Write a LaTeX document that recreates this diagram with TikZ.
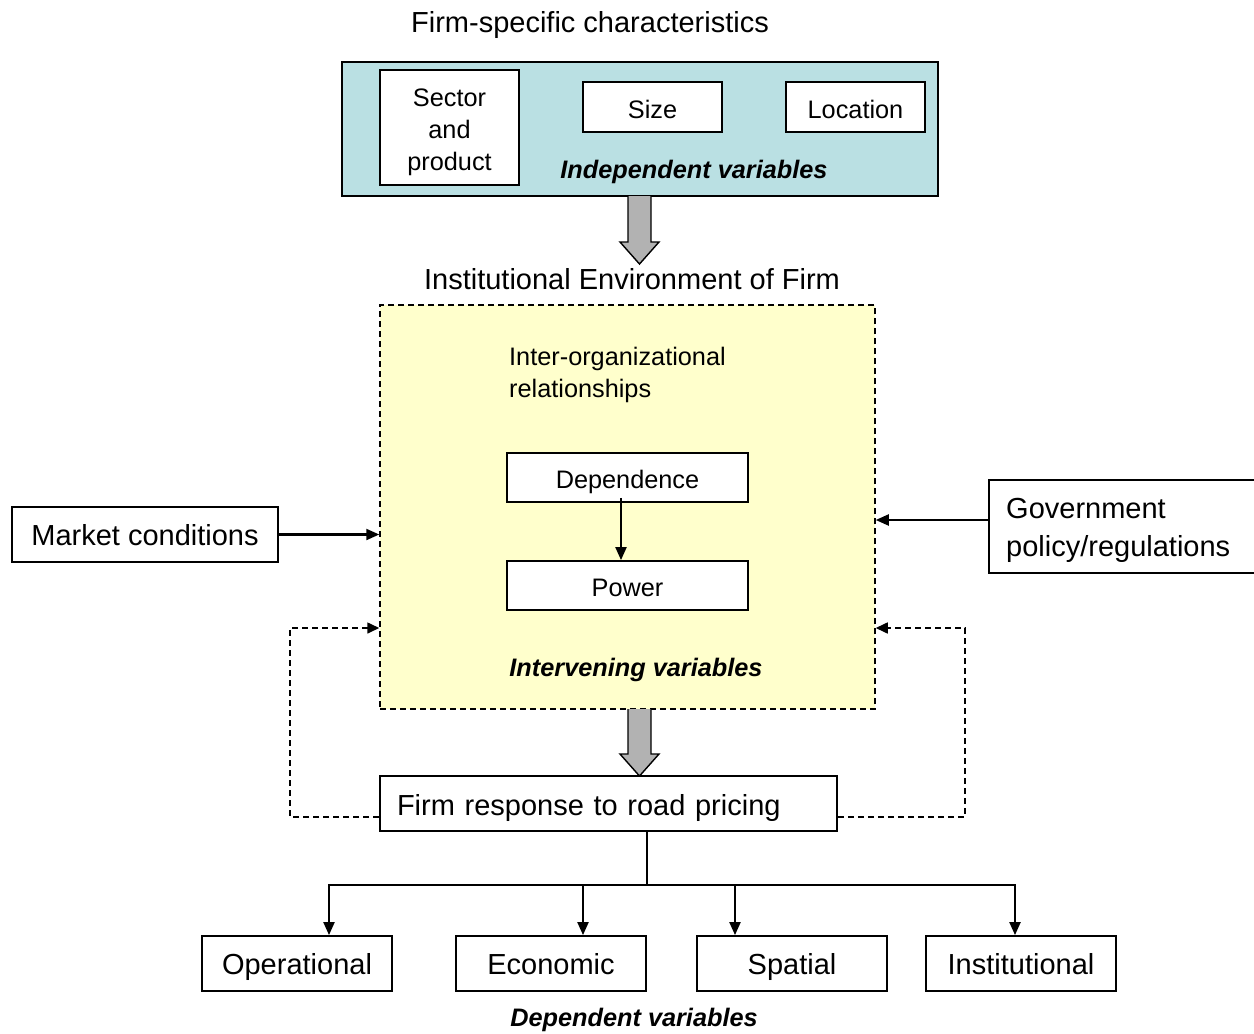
\documentclass[tikz,border=0pt]{standalone}
\usepackage{fontspec}
\setmainfont{Liberation Sans}
\usetikzlibrary{calc,arrows.meta}
\definecolor{tealfill}{RGB}{186,224,227}
\definecolor{yelfill}{RGB}{255,255,204}
\definecolor{arrowgray}{RGB}{178,178,178}
\tikzset{
  big/.style={font=\fontsize{29}{33}\selectfont},
  small/.style={font=\fontsize{25.3}{32}\selectfont},
  bi/.style={font=\fontsize{25.3}{30}\selectfont\bfseries\itshape},
  box/.style={draw, line width=1.8pt, fill=white, inner sep=0pt},
  bigbox/.style={box, big, text height=21.8pt, text depth=0pt},
  smallbox/.style={box, small, text height=22.1pt, text depth=0pt},
  conn/.style={line width=2.1pt, -{Triangle[length=13pt,width=11pt]}},
  dashconn/.style={line width=1.6pt, dash pattern=on 6pt off 4pt, -{Triangle[length=12pt,width=11pt]}},
  garrow/.style={line width=1.4pt, fill=arrowgray, line join=miter},
}
\begin{document}
\begin{tikzpicture}[x=1pt,y=-1pt]
\useasboundingbox (0,0) rectangle (1254,1034);

% top group
\node[big] (t1) at (590,24.5) {Firm-specific characteristics};
\node[draw, line width=1.8pt, fill=tealfill, minimum width=596, minimum height=134, inner sep=0pt] (teal) at (640,129) {};
\node[box, small, align=center, text height=91pt, minimum width=139, minimum height=115] (sector) at (449.5,127.5) {Sector\\and\\product};
\node[smallbox, minimum width=139, minimum height=50] (size) at (652.5,107) {Size};
\node[smallbox, minimum width=139, minimum height=50] (loc) at (855.5,107) {Location};
\node[bi] (indep) at (694,172) {Independent variables};

% block arrow 1
\draw[garrow] (628,196) -- (628,242) -- (620,242) -- (639.5,264) -- (659,242) -- (651,242) -- (651,196);

\node[big] (t2) at (632,279) {Institutional Environment of Firm};

% environment box
\node[draw, line width=1.5pt, dash pattern=on 6pt off 4pt, fill=yelfill, minimum width=495, minimum height=404, inner sep=0pt] (env) at (627.5,507) {};
\node[small, align=left, anchor=west, inner sep=0pt] (inter) at (509,375) {Inter-organizational\\relationships};
\node[smallbox, minimum width=241, minimum height=49] (dep) at (627.5,477.5) {Dependence};
\node[smallbox, minimum width=241, minimum height=49] (pow) at (627.5,585.5) {Power};
\node[bi] (interv) at (636,669.5) {Intervening variables};
\draw[conn] ($(dep.south)+(-6.5,-5)$) -- ($(pow.north)+(-6.5,0)$);

% side inputs
\node[bigbox, minimum width=266, minimum height=55] (market) at (145,534.5) {Market conditions};
\draw[conn] (market.east) -- (market.east -| env.west);

\node[font=\fontsize{29}{38}\selectfont, align=left, text width=231, text height=27.5pt, inner xsep=17, inner ysep=0, minimum height=93, anchor=west] (gov) at (989,526.5) {Government\\policy/regulations};
\draw[line width=1.8pt] ($(gov.north east)+(1,0)$) -- (gov.north west) -- (gov.south west) -- ($(gov.south east)+(1,0)$);
\draw[conn] ($(gov.west)+(0,-6.5)$) -- ($(gov.west -| env.east)+(0,-6.5)$);

% block arrow 2
\draw[garrow] (628,709) -- (628,754) -- (620,754) -- (639.5,776) -- (659,754) -- (651,754) -- (651,709);

% firm response
\node[box, big, align=left, text width=423, text height=23.5pt, text depth=0pt, inner xsep=17, inner ysep=0, minimum height=55] (firm) at (608.5,803.5) {Firm response to road pricing};

% feedback loops
\draw[dashconn] ($(firm.west)+(0,13.5)$) -| ($(env.west)+(-89,121)$) -- ($(env.west)+(0,121)$);
\draw[dashconn] ($(firm.east)+(0,13.5)$) -| ($(env.east)+(89,121)$) -- ($(env.east)+(0,121)$);

% dependent variables
\node[bigbox, minimum width=190, minimum height=55] (op) at (297,963.5) {Operational};
\node[bigbox, minimum width=190, minimum height=55] (eco) at (551,963.5) {Economic};
\node[bigbox, minimum width=190, minimum height=55] (spa) at (792,963.5) {Spatial};
\node[bigbox, minimum width=190, minimum height=55] (inst) at (1021,963.5) {Institutional};
\node[bi] (depv) at (634,1019.5) {Dependent variables};

\coordinate (j) at ($(firm.south)+(38.5,53)$);
\coordinate (opin) at ($(op.north)+(32,0)$);
\coordinate (ecoin) at ($(eco.north)+(32,0)$);
\coordinate (spain) at ($(spa.north)+(-57,0)$);
\coordinate (instin) at ($(inst.north)+(-6,0)$);
\draw[line width=1.8pt] (firm.south -| j) -- (j);
\draw[conn] (j) -| (opin);
\draw[conn] (j) -| (instin);
\draw[conn] (ecoin |- j) -- (ecoin);
\draw[conn] (spain |- j) -- (spain);
\end{tikzpicture}
\end{document}
